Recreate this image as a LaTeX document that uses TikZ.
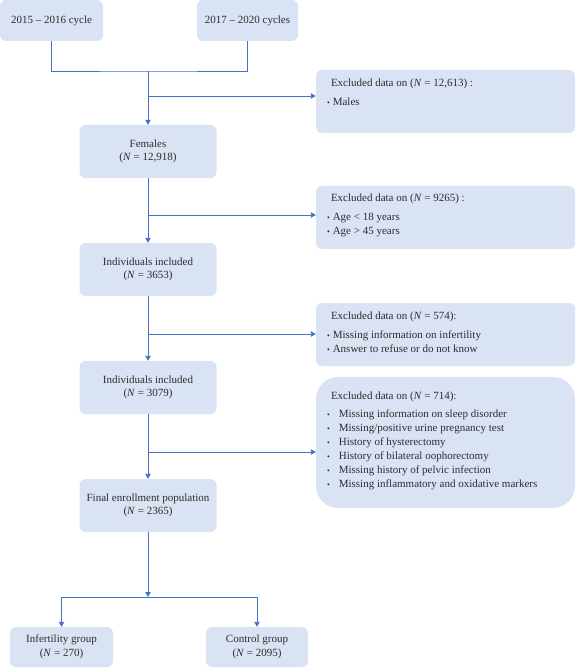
\documentclass[tikz,border=0pt]{standalone}
\usepackage{fontspec}
\setmainfont{Liberation Serif}
\usetikzlibrary{arrows.meta}
\definecolor{boxblue}{RGB}{218, 227, 243}
\definecolor{lineblue}{RGB}{68, 114, 196}
\definecolor{textgray}{RGB}{45, 45, 45}
\newcommand{\exbullet}[1][3pt]{{\footnotesize\textbullet}\hspace{#1}}

\begin{document}
\begin{tikzpicture}[x=1pt, y=-1pt,
    flowbox/.style={fill=boxblue, rounded corners=6pt, text=textgray,
      align=center, inner sep=0pt, font=\fontsize{11}{13.5}\selectfont},
    exclbox/.style={fill=boxblue, rounded corners=6pt, minimum width=259,
      inner sep=0pt},
    excltext/.style={text=textgray, align=left, inner sep=0pt,
      anchor=north west, font=\fontsize{11}{14}\selectfont},
    flowline/.style={lineblue, line width=0.9pt},
    flowarrow/.style={flowline, -{Triangle[width=5.5pt, length=5pt]}}]
    \useasboundingbox (0,0) rectangle (576,668);

    %% survey cycles
    \node[flowbox, minimum width=103, minimum height=41] (cyc1516) at (51.5,20.5)
      {2015 – 2016 cycle};
    \node[flowbox, minimum width=101, minimum height=41] (cyc1720) at (247.5,20.5)
      {2017 – 2020 cycles};

    %% main column
    \node[flowbox, minimum width=137, minimum height=53] (females) at (148,151.5)
      {Females\\(\textit{N} = 12,918)};
    \node[flowbox, minimum width=137, minimum height=53] (incl1) at (148,269.5)
      {Individuals included\\(\textit{N} = 3653)};
    \node[flowbox, minimum width=137, minimum height=53] (incl2) at (148,387.5)
      {Individuals included\\(\textit{N} = 3079)};
    \node[flowbox, minimum width=137, minimum height=53] (final) at (148,505.5)
      {Final enrollment population\\(\textit{N} = 2365)};
    \node[flowbox, minimum width=103, minimum height=40] (infert) at (61.5,647)
      {Infertility group\\(\textit{N} = 270)};
    \node[flowbox, minimum width=102, minimum height=40] (control) at (257,647)
      {Control group\\(\textit{N} = 2095)};

    %% exclusion boxes
    \node[exclbox, minimum height=63] (excl1) at (445.5,101.5) {};
    \node[excltext] (excl1txt) at ([xshift=11pt, yshift=-9pt]excl1.north west)
      {\hspace{4pt}Excluded data on (\textit{N} = 12,613) :\\[5pt]
       \exbullet Males};
    \node[exclbox, minimum height=63] (excl2) at (445.5,217.5) {};
    \node[excltext] (excl2txt) at ([xshift=11pt, yshift=-8pt]excl2.north west)
      {\hspace{4pt}Excluded data on (\textit{N} = 9265) :\\[5pt]
       \exbullet Age < 18 years\\
       \exbullet Age > 45 years};
    \node[exclbox, minimum height=63] (excl3) at (445.5,334.5) {};
    \node[excltext] (excl3txt) at ([xshift=11pt, yshift=-9pt]excl3.north west)
      {\hspace{4pt}Excluded data on (\textit{N} = 574):\\[5pt]
       \exbullet Missing information on infertility\\
       \exbullet Answer to refuse or do not know};
    \node[exclbox, minimum height=131, rounded corners=22pt] (excl4) at (445.5,442.5) {};
    \node[excltext] (excl4txt) at ([xshift=11pt, yshift=-15pt]excl4.north west)
      {\hspace{4pt}Excluded data on (\textit{N} = 714):\\[4pt]
       \exbullet[9pt]Missing information on sleep disorder\\
       \exbullet[9pt]Missing/positive urine pregnancy test\\
       \exbullet[9pt]History of hysterectomy\\
       \exbullet[9pt]History of bilateral oophorectomy\\
       \exbullet[9pt]Missing history of pelvic infection\\
       \exbullet[9pt]Missing inflammatory and oxidative markers};

    %% connectors
    \coordinate (merge) at (148,71);
    \draw[flowline] (cyc1516.south) |- (merge) -| (cyc1720.south);
    \draw[flowarrow] (merge) -- (females.north);
    \draw[flowarrow] (females.south) -- (incl1.north);
    \draw[flowarrow] (incl1.south) -- (incl2.north);
    \draw[flowarrow] (incl2.south) -- (final.north);

    \coordinate (br1) at (148,96);
    \coordinate (br2) at (148,215);
    \coordinate (br3) at (148,334);
    \coordinate (br4) at (148,452);
    \draw[flowarrow] (br1) -- (br1 -| excl1.west);
    \draw[flowarrow] (br2) -- (br2 -| excl2.west);
    \draw[flowarrow] (br3) -- (br3 -| excl3.west);
    \draw[flowarrow] (br4) -- (br4 -| excl4.west);

    \coordinate (split) at (148,597);
    \draw[flowarrow] (final.south) -- (split);
    \draw[flowarrow] (split) -| (infert.north);
    \draw[flowarrow] (split) -| (control.north);
  \end{tikzpicture}
\end{document}
